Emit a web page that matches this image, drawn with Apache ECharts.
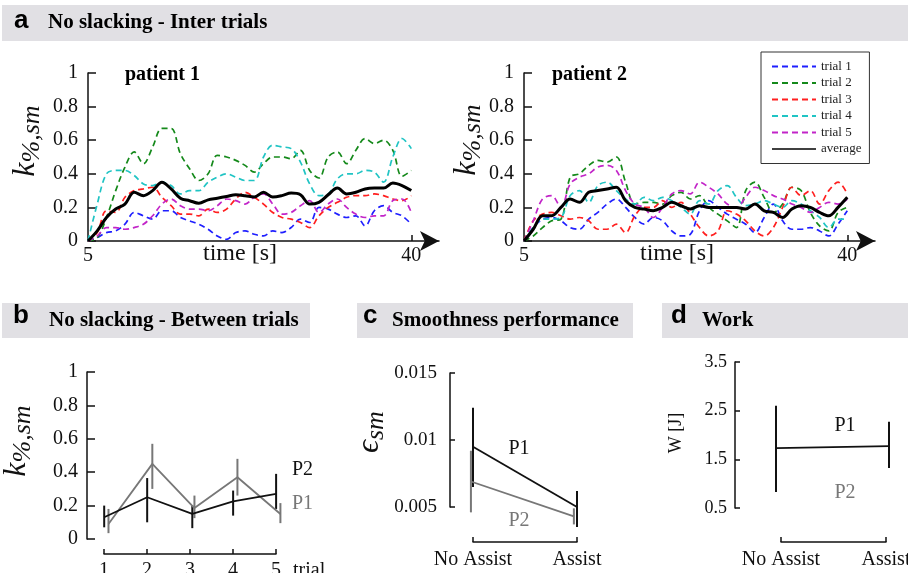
<!DOCTYPE html>
<html>
<head>
<meta charset="utf-8">
<script src="https://cdn.jsdelivr.net/npm/echarts@6/dist/echarts.min.js"></script>
<style>
  html, body { margin: 0; padding: 0; background: #fff; }
  #chart { width: 908px; height: 573px; }
</style>
</head>
<body>
<div id="chart"></div>
<script>
// panel a: time axis and trial traces (1 s steps)
const TIMES = [5, 6, 7, 8, 9, 10, 11, 12, 13, 14, 15, 16, 17, 18, 19, 20, 21, 22,
  23, 24, 25, 26, 27, 28, 29, 30, 31, 32, 33, 34, 35, 36, 37, 38, 39, 40]
const TRIAL_NAMES = ['trial 1', 'trial 2', 'trial 3', 'trial 4', 'trial 5']

const p1Trial1 = [0, 0.02, 0.05, 0.06, 0.1, 0.17, 0.15, 0.13, 0.18, 0.18, 0.14, 0.12, 0.1, 0.07, 0.03, 0.01, 0.05, 0.06,
  0.04, 0.03, 0.06, 0.05, 0.08, 0.13, 0.11, 0.2, 0.19, 0.16, 0.14, 0.15, 0.09, 0.18, 0.21, 0.17, 0.15, 0.1]
const p1Trial2 = [0, 0.02, 0.14, 0.3, 0.44, 0.53, 0.46, 0.56, 0.67, 0.67, 0.52, 0.43, 0.36, 0.4, 0.51, 0.5, 0.48, 0.45,
  0.41, 0.46, 0.5, 0.5, 0.49, 0.54, 0.42, 0.375, 0.5, 0.53, 0.46, 0.54, 0.61, 0.58, 0.6, 0.54, 0.385, 0.42]
const p1Trial3 = [0, 0.05, 0.18, 0.17, 0.26, 0.3, 0.31, 0.32, 0.26, 0.21, 0.16, 0.16, 0.15, 0.19, 0.17, 0.19, 0.25, 0.29,
  0.26, 0.22, 0.17, 0.14, 0.13, 0.11, 0.08, 0.15, 0.2, 0.23, 0.26, 0.27, 0.27, 0.28, 0.27, 0.25, 0.24, 0.27]
const p1Trial4 = [0, 0.22, 0.4, 0.42, 0.42, 0.39, 0.34, 0.33, 0.35, 0.33, 0.28, 0.3, 0.3, 0.35, 0.38, 0.4, 0.38, 0.36,
  0.36, 0.5, 0.57, 0.56, 0.55, 0.47, 0.34, 0.27, 0.28, 0.37, 0.4, 0.4, 0.42, 0.41, 0.35, 0.5, 0.61, 0.55]
const p1Trial5 = [0, 0.03, 0.08, 0.08, 0.07, 0.08, 0.1, 0.15, 0.22, 0.25, 0.21, 0.19, 0.19, 0.18, 0.21, 0.25, 0.24, 0.22,
  0.26, 0.28, 0.22, 0.16, 0.17, 0.21, 0.24, 0.17, 0.22, 0.25, 0.2, 0.16, 0.14, 0.15, 0.15, 0.24, 0.25, 0.17]
const p1Average = [0, 0.06, 0.14, 0.19, 0.22, 0.29, 0.27, 0.3, 0.35, 0.31, 0.255, 0.24, 0.225, 0.245, 0.255, 0.265, 0.275, 0.27,
  0.262, 0.29, 0.262, 0.27, 0.285, 0.275, 0.22, 0.23, 0.275, 0.315, 0.28, 0.29, 0.31, 0.315, 0.315, 0.345, 0.33, 0.3]

const p2Trial1 = [0, 0.08, 0.13, 0.14, 0.12, 0.08, 0.07, 0.13, 0.17, 0.22, 0.25, 0.2, 0.14, 0.1, 0.14, 0.12, 0.06, 0.03,
  0.04, 0.18, 0.24, 0.2, 0.16, 0.13, 0.1, 0.05, 0.14, 0.22, 0.12, 0.07, 0.07, 0.08, 0.06, 0.03, 0.1, 0.18]
const p2Trial2 = [0, 0.03, 0.08, 0.12, 0.13, 0.38, 0.4, 0.45, 0.48, 0.47, 0.5, 0.35, 0.22, 0.23, 0.23, 0.22, 0.27, 0.29,
  0.25, 0.27, 0.2, 0.16, 0.12, 0.08, 0.3, 0.35, 0.26, 0.17, 0.22, 0.32, 0.3, 0.17, 0.09, 0.06, 0.17, 0.2]
const p2Trial3 = [0, 0.12, 0.16, 0.17, 0.15, 0.13, 0.14, 0.12, 0.07, 0.07, 0.1, 0.05, 0.15, 0.2, 0.2, 0.24, 0.2, 0.23,
  0.16, 0.08, 0.03, 0.06, 0.18, 0.16, 0.12, 0.06, 0.03, 0.08, 0.2, 0.32, 0.27, 0.3, 0.22, 0.3, 0.35, 0.28]
const p2Trial4 = [0, 0.08, 0.13, 0.13, 0.14, 0.27, 0.3, 0.23, 0.33, 0.35, 0.3, 0.25, 0.22, 0.26, 0.24, 0.26, 0.24, 0.2,
  0.16, 0.24, 0.22, 0.3, 0.33, 0.26, 0.21, 0.22, 0.24, 0.22, 0.2, 0.24, 0.22, 0.18, 0.14, 0.08, 0.13, 0.13]
const p2Trial5 = [0, 0.12, 0.25, 0.27, 0.2, 0.34, 0.38, 0.4, 0.44, 0.45, 0.42, 0.3, 0.22, 0.2, 0.14, 0.2, 0.28, 0.3,
  0.28, 0.35, 0.32, 0.28, 0.22, 0.2, 0.26, 0.32, 0.3, 0.27, 0.25, 0.22, 0.2, 0.17, 0.2, 0.23, 0.22, 0.25]
const p2Average = [0, 0.07, 0.15, 0.15, 0.2, 0.25, 0.23, 0.29, 0.3, 0.31, 0.32, 0.24, 0.2, 0.19, 0.18, 0.2, 0.23, 0.21,
  0.19, 0.21, 0.2, 0.2, 0.2, 0.2, 0.19, 0.22, 0.18, 0.17, 0.14, 0.19, 0.21, 0.2, 0.17, 0.15, 0.2, 0.26]

// panel b: between trials
const TRIALS = [1, 2, 3, 4, 5]
const bP2X = [1, 2, 3.05, 4, 5]
const bP2Mean = [0.13, 0.25, 0.15, 0.225, 0.27]
const bP2Low = [0.07, 0.1, 0.065, 0.14, 0.18]
const bP2High = [0.2, 0.365, 0.2, 0.29, 0.39]
const bP1X = [1.1, 2.12, 3.1, 4.1, 5.1]
const bP1Mean = [0.09, 0.45, 0.185, 0.37, 0.15]
const bP1Low = [0.035, 0.3, 0.125, 0.26, 0.095]
const bP1High = [0.18, 0.57, 0.26, 0.48, 0.215]

// panel c: smoothness
const CONDITIONS = ['No Assist', 'Assist']
const cP1X = [0, 1]
const cP1Mean = [0.0095, 0.005]
const cP1Low = [0.0065, 0.0035]
const cP1High = [0.0124, 0.0062]
const cP2X = [-0.02, 0.97]
const cP2Mean = [0.0069, 0.0043]
const cP2Low = [0.0046, 0.0037]
const cP2High = [0.0092, 0.0049]

// panel d: work
const dP1X = [0, 1]
const dP1Mean = [1.73, 1.77]
const dP1Low = [0.83, 1.32]
const dP1High = [2.6, 2.27]

const SERIF = '"Liberation Serif", "Times New Roman", serif'
const SANS = '"Liberation Sans", Arial, sans-serif'
const INK = '#111'
const GRAY = '#777'
const HEADER = '#e1e0e4'
const TRIAL_COLORS = ['#1f1fff', '#14891a', '#ff1f1f', '#20c4c4', '#c224c8']

const lineStyle = { color: INK, width: 1.5 }

const hiddenAxis = (gridIndex, min, max) => ({
  gridIndex, type: 'value', min, max, show: false
})

const visibleY = (gridIndex, min, max, interval, fontSize, margin, tickLength) => ({
  gridIndex,
  type: 'value',
  min,
  max,
  interval,
  axisLine: { show: true, lineStyle },
  axisTick: { show: true, inside: true, length: tickLength, lineStyle },
  axisLabel: { color: INK, fontFamily: SERIF, fontSize, margin },
  splitLine: { show: false }
})

const bracketX = (gridIndex, min, max, formatter, fontSize, margin) => ({
  gridIndex,
  type: 'value',
  min,
  max,
  interval: 1,
  axisLine: { show: true, onZero: false, lineStyle },
  axisTick: { show: true, inside: true, length: 5, lineStyle },
  axisLabel: { color: INK, fontFamily: SERIF, fontSize, margin, formatter },
  splitLine: { show: false }
})

const timeAxis = (gridIndex) => ({
  gridIndex,
  type: 'value',
  min: 5,
  max: 43,
  axisLine: {
    show: true,
    onZero: false,
    symbol: ['none', 'arrow'],
    symbolSize: [15, 19],
    lineStyle
  },
  axisTick: { show: true, inside: true, length: 6, customValues: [40], lineStyle },
  axisLabel: { color: INK, fontFamily: SERIF, fontSize: 20, margin: 5, customValues: [5, 40] },
  splitLine: { show: false }
})

const trialSeries = (gridIndex, trials, average) => [
  ...trials.map((values, k) => ({
    name: TRIAL_NAMES[k],
    type: 'line',
    xAxisIndex: gridIndex,
    yAxisIndex: gridIndex,
    data: TIMES.map((t, i) => [t, values[i]]),
    showSymbol: false,
    symbol: 'none',
    smooth: 0.35,
    lineStyle: { color: TRIAL_COLORS[k], width: 1.7, type: [6, 4] },
    itemStyle: { color: TRIAL_COLORS[k] },
    z: 2
  })),
  {
    name: 'average',
    type: 'line',
    xAxisIndex: gridIndex,
    yAxisIndex: gridIndex,
    data: TIMES.map((t, i) => [t, average[i]]),
    showSymbol: false,
    symbol: 'none',
    smooth: 0.35,
    lineStyle: { color: '#000', width: 3 },
    itemStyle: { color: '#000' },
    z: 3
  }
]

const errorBar = (params, api) => {
  const a = api.coord([api.value(0), api.value(1)])
  const b = api.coord([api.value(0), api.value(2)])
  return {
    type: 'line',
    shape: { x1: a[0], y1: a[1], x2: b[0], y2: b[1] },
    style: { stroke: api.visual('color'), lineWidth: 2 }
  }
}

const meanLine = (gridIndex, xs, means, color) => ({
  type: 'line',
  xAxisIndex: gridIndex,
  yAxisIndex: gridIndex,
  data: xs.map((x, i) => [x, means[i]]),
  showSymbol: false,
  symbol: 'none',
  clip: false,
  lineStyle: { color, width: 1.8 },
  itemStyle: { color }
})

const errorSeries = (gridIndex, xs, lows, highs, color) => ({
  type: 'custom',
  xAxisIndex: gridIndex,
  yAxisIndex: gridIndex,
  renderItem: errorBar,
  data: xs.map((x, i) => [x, lows[i], highs[i]]),
  itemStyle: { color },
  encode: { x: 0, y: [1, 2] },
  clip: false,
  silent: true
})

const text = (x, y, str, font, fill = INK, align = 'left') => ({
  type: 'text',
  x,
  y,
  style: { text: str, font, fill, align, verticalAlign: 'middle' }
})

const rotatedLabel = (x, y, big, sub) => ({
  type: 'text',
  x,
  y,
  rotation: Math.PI / 2,
  style: {
    text: `{k|${big}}{s|${sub}}`,
    align: 'center',
    verticalAlign: 'middle',
    fill: INK,
    rich: {
      k: { fontFamily: SERIF, fontStyle: 'italic', fontSize: 32, lineHeight: 34, verticalAlign: 'top' },
      s: { fontFamily: SERIF, fontStyle: 'italic', fontSize: 26, lineHeight: 28, padding: [9, 0, 0, 0], verticalAlign: 'top' }
    }
  }
})

const grid = (left, top, width, height) => ({ left, top, width, height, outerBoundsMode: 'none' })

const HEAD_FONT = `bold 21px ${SERIF}`
const LETTER_FONT = `bold 26px ${SANS}`

const chart = echarts.init(document.getElementById('chart'))

chart.setOption({
  backgroundColor: '#ffffff',
  animation: false,
  grid: [
    grid(88, 73, 351, 168),
    grid(524, 73, 351, 168),
    grid(87, 372, 202, 167),
    grid(104, 500, 172, 54),
    grid(473, 373, 104, 160.8),
    grid(450, 373, 10, 134),
    grid(473, 500, 104, 42),
    grid(776, 362, 113, 146),
    grid(735, 362, 10, 146),
    grid(781, 500, 105, 42)
  ],
  xAxis: [
    timeAxis(0),
    timeAxis(1),
    hiddenAxis(2, 0.6, 5.3),
    bracketX(3, 1, 5, (v) => String(v), 20, 7),
    hiddenAxis(4, 0, 1),
    hiddenAxis(5, 0, 1),
    bracketX(6, 0, 1, (v) => CONDITIONS[v], 20, 8),
    hiddenAxis(7, 0, 1),
    hiddenAxis(8, 0, 1),
    bracketX(9, 0, 1, (v) => CONDITIONS[v], 20, 8)
  ],
  yAxis: [
    visibleY(0, 0, 1, 0.2, 20, 10, 8),
    visibleY(1, 0, 1, 0.2, 20, 10, 8),
    visibleY(2, 0, 1, 0.2, 20, 9, 8),
    hiddenAxis(3, 0, 1),
    hiddenAxis(4, 0.003, 0.015),
    visibleY(5, 0.005, 0.015, 0.005, 19, 13, 5),
    hiddenAxis(6, 0, 1),
    hiddenAxis(7, 0.5, 3.5),
    visibleY(8, 0.5, 3.5, 1, 18, 8, 5),
    hiddenAxis(9, 0, 1)
  ],
  legend: {
    data: [...TRIAL_NAMES, { name: 'average', lineStyle: { width: 1.3 } }],
    orient: 'vertical',
    left: 761,
    top: 52,
    padding: [8, 8, 8, 10],
    itemGap: 3.5,
    itemWidth: 44,
    itemHeight: 14,
    borderColor: '#333',
    borderWidth: 1,
    selectedMode: false,
    itemStyle: { opacity: 0 },
    textStyle: { fontFamily: SERIF, fontSize: 13, color: '#222' }
  },
  series: [
    ...trialSeries(0, [p1Trial1, p1Trial2, p1Trial3, p1Trial4, p1Trial5], p1Average),
    ...trialSeries(1, [p2Trial1, p2Trial2, p2Trial3, p2Trial4, p2Trial5], p2Average),
    meanLine(2, bP1X, bP1Mean, GRAY),
    errorSeries(2, bP1X, bP1Low, bP1High, GRAY),
    meanLine(2, bP2X, bP2Mean, INK),
    errorSeries(2, bP2X, bP2Low, bP2High, INK),
    meanLine(4, cP2X, cP2Mean, GRAY),
    errorSeries(4, cP2X, cP2Low, cP2High, GRAY),
    meanLine(4, cP1X, cP1Mean, INK),
    errorSeries(4, cP1X, cP1Low, cP1High, INK),
    meanLine(7, dP1X, dP1Mean, INK),
    errorSeries(7, dP1X, dP1Low, dP1High, INK)
  ],
  graphic: [
    { type: 'rect', shape: { x: 2, y: 5, width: 906, height: 36 }, style: { fill: HEADER }, z: -10 },
    { type: 'rect', shape: { x: 2, y: 303, width: 308, height: 35 }, style: { fill: HEADER }, z: -10 },
    { type: 'rect', shape: { x: 357, y: 303, width: 276, height: 35 }, style: { fill: HEADER }, z: -10 },
    { type: 'rect', shape: { x: 662, y: 303, width: 246, height: 35 }, style: { fill: HEADER }, z: -10 },
    text(14, 21, 'a', LETTER_FONT, '#000'),
    text(48, 23, 'No slacking - Inter trials', HEAD_FONT, '#000'),
    text(13, 316, 'b', LETTER_FONT, '#000'),
    text(49, 321, 'No slacking - Between trials', HEAD_FONT, '#000'),
    text(363, 316, 'c', LETTER_FONT, '#000'),
    text(392, 321, 'Smoothness performance', HEAD_FONT, '#000'),
    text(671, 316, 'd', LETTER_FONT, '#000'),
    text(702, 321, 'Work', HEAD_FONT, '#000'),
    text(125, 75, 'patient 1', `bold 20px ${SERIF}`, '#000'),
    text(552, 75, 'patient 2', `bold 20px ${SERIF}`, '#000'),
    text(240, 254, 'time [s]', `24px ${SERIF}`, INK, 'center'),
    text(677, 254, 'time [s]', `24px ${SERIF}`, INK, 'center'),
    rotatedLabel(27, 141, 'k', '%,sm'),
    rotatedLabel(468, 140, 'k', '%,sm'),
    rotatedLabel(18, 441, 'k', '%,sm'),
    rotatedLabel(371, 432, 'ϵ', 'sm'),
    { type: 'text', x: 676, y: 433, rotation: Math.PI / 2,
      style: { text: 'W [J]', font: `18px ${SERIF}`, fill: INK, align: 'center', verticalAlign: 'middle' } },
    text(292, 470, 'P2', `20px ${SERIF}`, INK),
    text(292, 504, 'P1', `20px ${SERIF}`, GRAY),
    text(293, 571, 'trial', `20px ${SERIF}`, INK),
    text(519, 449, 'P1', `20px ${SERIF}`, INK, 'center'),
    text(519, 521, 'P2', `20px ${SERIF}`, GRAY, 'center'),
    text(845, 426, 'P1', `20px ${SERIF}`, INK, 'center'),
    text(845, 493, 'P2', `20px ${SERIF}`, GRAY, 'center')
  ]
})
</script>
</body>
</html>
